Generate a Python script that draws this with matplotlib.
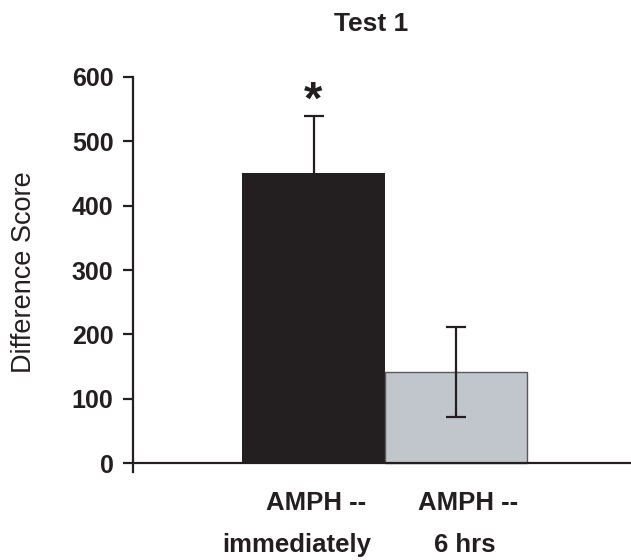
import numpy as np
import matplotlib
matplotlib.use('Agg')
import matplotlib.pyplot as plt

# Data
groups = ['immediately', '6 hrs']
line1 = ['AMPH --', 'AMPH --']
scores = [451, 141]
sems = [88, 70]
bar_colors = ['#231f20', '#c1c5cc']
yticks = [0, 100, 200, 300, 400, 500, 600]

ink = '#231f20'
plt.rcParams['font.family'] = ['Liberation Sans', 'DejaVu Sans']

fig = plt.figure(figsize=(6.31, 5.60), dpi=100)
ax = fig.add_axes([0.2108, 0.1571, 0.7892, 0.7054])

x = np.arange(len(groups))
ax.bar(x, scores, width=1.0, color=bar_colors, edgecolor=['#231f20', '#5a5a5a'],
       linewidth=[0, 1.0], zorder=2)
# first bar's whisker sits behind the black bar, so only the top half shows
ax.errorbar(x[:1], scores[:1], yerr=sems[:1], fmt='none', ecolor=ink,
            elinewidth=1.6, capsize=7.5, capthick=1.6, zorder=1)
ax.errorbar(x[1:], scores[1:], yerr=sems[1:], fmt='none', ecolor=ink,
            elinewidth=1.6, capsize=7.5, capthick=1.6, zorder=3)

# significance star
ax.text(x[0], 562, '*', ha='center', va='center', fontsize=34,
        fontweight='bold', color=ink)

ax.set_xlim(-1.267, 2.228)
ax.set_ylim(-14, 600)
ax.set_yticks(yticks)
ax.set_yticklabels([str(t) for t in yticks], fontsize=18, fontweight='bold', color=ink)
ax.set_xticks([])

for s in ['top', 'right']:
    ax.spines[s].set_visible(False)
ax.spines['bottom'].set_position(('data', 0))
for s in ['left', 'bottom']:
    ax.spines[s].set_linewidth(1.6)
    ax.spines[s].set_color(ink)
ax.tick_params(axis='y', length=7, width=1.6, color=ink, pad=7)

# two-line category labels
trans = ax.get_xaxis_transform()
off1 = [0.018, 0.084]
off2 = [-0.12, 0.063]
for i in range(len(groups)):
    ax.text(x[i] + off1[i], -0.0962, line1[i], transform=trans, ha='center',
            va='baseline', fontsize=18.5, fontweight='bold', color=ink)
    ax.text(x[i] + off2[i], -0.2025, groups[i], transform=trans, ha='center',
            va='baseline', fontsize=18.5, fontweight='bold', color=ink)

fig.text(371 / 631, 1 - 31 / 560, 'Test 1', ha='center', va='baseline',
         fontsize=19, fontweight='bold', color=ink)
fig.text(24 / 631, 1 - 272 / 560, 'Difference Score', rotation=90,
         ha='center', va='center', fontsize=19.5, color=ink)

fig.savefig('out.png', dpi=100)
